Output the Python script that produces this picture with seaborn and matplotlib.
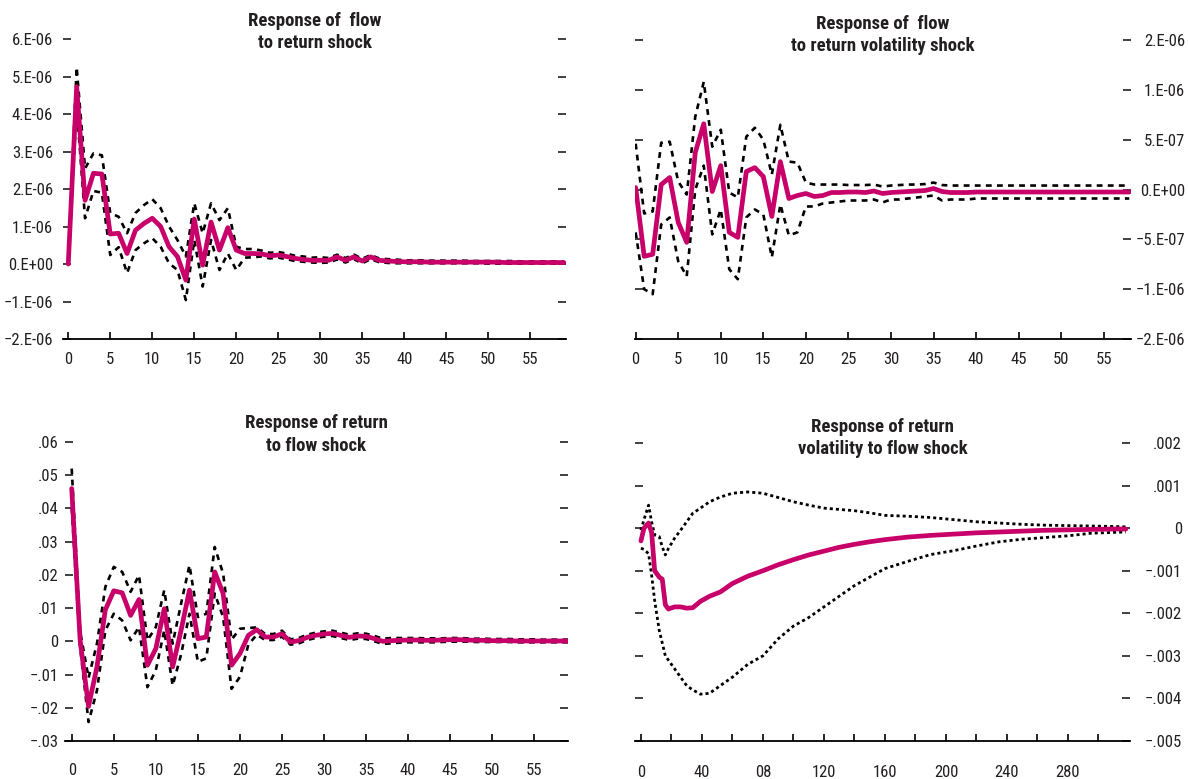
import numpy as np
import pandas as pd
import matplotlib
matplotlib.use("Agg")
import matplotlib.pyplot as plt
import seaborn as sns

# Estilo geral
sns.set_theme(style="white")
plt.rcParams['font.family'] = ['Roboto Condensed', 'DejaVu Sans']
PINK = '#C8006A'
INK = '#231F20'

# --- Dados: resposta do fluxo a choque de retorno (unidades de 1e-6) ---
tl_mid = [0.0, 4.73, 1.7, 2.42, 2.4, 0.8, 0.82, 0.28, 0.9, 1.08,
          1.22, 1.0, 0.46, 0.2, -0.43, 1.2, -0.03, 1.12, 0.37, 0.97,
          0.37, 0.28, 0.28, 0.27, 0.22, 0.24, 0.2, 0.15, 0.12, 0.1,
          0.1, 0.1, 0.19, 0.1, 0.19, 0.08, 0.19, 0.1, 0.08, 0.07,
          0.06, 0.06, 0.06, 0.05, 0.05, 0.05, 0.05, 0.05, 0.05, 0.05,
          0.05, 0.05, 0.04, 0.04, 0.04, 0.04, 0.04, 0.04, 0.04, 0.04]
tl_hi = [0.0, 5.25, 2.55, 2.95, 2.9, 1.36, 1.26, 0.82, 1.36, 1.57,
         1.73, 1.49, 1.0, 0.64, 0.2, 1.62, 0.82, 1.62, 1.17, 1.49,
         0.46, 0.4, 0.4, 0.36, 0.3, 0.32, 0.28, 0.22, 0.2, 0.17,
         0.18, 0.16, 0.25, 0.16, 0.25, 0.14, 0.24, 0.15, 0.13, 0.12,
         0.1, 0.1, 0.1, 0.09, 0.09, 0.09, 0.09, 0.09, 0.08, 0.08,
         0.08, 0.08, 0.08, 0.08, 0.07, 0.07, 0.07, 0.07, 0.07, 0.07]
tl_lo = [0.0, 4.2, 1.22, 1.95, 1.9, 0.24, 0.45, -0.24, 0.37, 0.55,
         0.69, 0.46, 0.02, -0.16, -0.96, 0.64, -0.6, 0.64, -0.16, 0.28,
         -0.16, 0.17, 0.18, 0.2, 0.15, 0.17, 0.13, 0.08, 0.06, 0.04,
         0.03, 0.04, 0.12, 0.04, 0.13, 0.02, 0.13, 0.05, 0.03, 0.02,
         0.02, 0.02, 0.02, 0.02, 0.02, 0.02, 0.02, 0.02, 0.02, 0.02,
         0.01, 0.01, 0.01, 0.01, 0.01, 0.01, 0.01, 0.01, 0.01, 0.01]

# --- Dados: resposta do fluxo a choque de volatilidade (unidades de 1e-7) ---
tr_mid = [0.2, -6.7, -6.5, 0.5, 1.2, -3.3, -5.3, 3.7, 6.6, -0.2,
          2.4, -4.3, -4.8, 1.8, 2.2, 1.3, -2.7, 2.8, -0.9, -0.6,
          -0.4, -0.7, -0.6, -0.3, -0.3, -0.25, -0.25, -0.3, -0.15, -0.4,
          -0.3, -0.25, -0.2, -0.15, -0.1, 0.1, -0.2, -0.3, -0.3, -0.3,
          -0.25, -0.25, -0.25, -0.25, -0.25, -0.25, -0.25, -0.25, -0.25, -0.25,
          -0.25, -0.25, -0.25, -0.25, -0.25, -0.25, -0.25, -0.25, -0.25]
tr_hi = [4.6, -2.4, -2.2, 4.7, 4.8, 0.8, -0.5, 7.3, 10.8, 4.3,
         6.0, -0.3, -0.8, 5.3, 6.2, 5.0, 1.5, 6.5, 2.8, 2.7,
         0.7, 0.5, 0.5, 0.5, 0.5, 0.45, 0.45, 0.45, 0.5, 0.3,
         0.4, 0.45, 0.5, 0.5, 0.55, 0.7, 0.45, 0.4, 0.4, 0.4,
         0.4, 0.4, 0.4, 0.4, 0.4, 0.4, 0.4, 0.4, 0.4, 0.4,
         0.4, 0.4, 0.4, 0.4, 0.4, 0.4, 0.4, 0.4, 0.4]
tr_lo = [-4.3, -10.0, -10.5, -3.5, -2.8, -7.2, -8.7, 0.0, 2.4, -4.5,
         -2.0, -8.0, -9.0, -2.8, -2.0, -2.5, -6.8, -1.5, -4.6, -4.3,
         -1.7, -1.7, -1.4, -1.3, -1.2, -1.1, -1.1, -1.1, -1.0, -1.3,
         -1.0, -1.0, -0.9, -0.8, -0.7, -0.6, -1.1, -1.0, -1.0, -1.0,
         -0.9, -0.9, -0.9, -0.9, -0.9, -0.9, -0.9, -0.9, -0.9, -0.9,
         -0.9, -0.9, -0.9, -0.9, -0.9, -0.9, -0.9, -0.9, -0.9]

# --- Dados: resposta do retorno a choque de fluxo ---
bl_mid = [0.046, 0.0003, -0.0196, -0.0077, 0.0095, 0.0152, 0.0146, 0.0078, 0.0126, -0.0072,
          -0.0022, 0.0098, -0.0077, 0.0033, 0.0154, 0.0008, 0.0013, 0.0209, 0.0144, -0.0072,
          -0.0037, 0.0018, 0.0035, 0.0013, 0.0013, 0.0023, -0.0002, 0.0002, 0.0012, 0.0018,
          0.0022, 0.0024, 0.0018, 0.0012, 0.0016, 0.0015, 0.0008, 0.0, 0.0002, 0.0003,
          0.0004, 0.0004, 0.0003, 0.0003, 0.0004, 0.0005, 0.0005, 0.0004, 0.0003, 0.0003,
          0.0002, 0.0002, 0.0002, 0.0001, 0.0001, 0.0001, 0.0001, 0.0001, 0.0001, 0.0001]
bl_hi = [0.052, 0.003, -0.011, -0.0007, 0.0164, 0.0224, 0.0209, 0.0149, 0.0199, 0.0003,
         0.0043, 0.0154, -0.0007, 0.0113, 0.0229, 0.0073, 0.0083, 0.0284, 0.0204, 0.0005,
         0.0038, 0.004, 0.0042, 0.0022, 0.0022, 0.0032, 0.0006, 0.001, 0.002, 0.0026,
         0.003, 0.0032, 0.0026, 0.002, 0.0024, 0.0023, 0.0016, 0.0008, 0.001, 0.001,
         0.001, 0.001, 0.0009, 0.0009, 0.0009, 0.001, 0.001, 0.0009, 0.0008, 0.0008,
         0.0007, 0.0007, 0.0007, 0.0006, 0.0006, 0.0006, 0.0005, 0.0005, 0.0005, 0.0005]
bl_lo = [0.040, -0.0017, -0.0243, -0.0148, 0.0033, 0.0083, 0.0063, 0.0003, 0.0043, -0.0138,
         -0.0087, 0.0033, -0.0133, -0.004, 0.0083, -0.0062, -0.0051, 0.0144, 0.0073, -0.0143,
         -0.0107, -0.001, 0.002, 0.0004, 0.0004, 0.0014, -0.001, -0.0006, 0.0004, 0.001,
         0.0014, 0.0016, 0.001, 0.0004, 0.0008, 0.0007, 0.0, -0.0008, -0.0006, -0.0004,
         -0.0003, -0.0003, -0.0003, -0.0003, -0.0002, -0.0001, -0.0001, -0.0001, -0.0002, -0.0002,
         -0.0002, -0.0002, -0.0002, -0.0003, -0.0003, -0.0003, -0.0003, -0.0003, -0.0003, -0.0003]

# --- Dados: resposta da volatilidade a choque de fluxo ---
br_h = [0, 2, 5, 7, 9, 12, 14, 16, 18, 22, 26, 30, 34, 39, 45, 52, 60, 70, 80, 90,
        100, 110, 120, 130, 140, 150, 160, 175, 190, 205, 220, 235, 250, 265, 280, 295, 310, 318]
br_mid = [-0.0003, 0.0, 0.00012, -0.0001, -0.001, -0.00115, -0.0012, -0.0018, -0.0019, -0.00185,
          -0.00185, -0.00188, -0.00187, -0.00172, -0.0016, -0.0015, -0.0013, -0.00113, -0.001, -0.00086,
          -0.00074, -0.00063, -0.00054, -0.00045, -0.00038, -0.00032, -0.00027, -0.00021, -0.00017, -0.00014,
          -0.00011, -0.00009, -0.00007, -0.00005, -0.00004, -0.00003, -0.00002, -0.00002]
br_hi = [-0.00005, 0.0002, 0.00054, 0.00015, -0.00016, -0.0002, -0.00044, -0.00063, -0.00048, -0.00024,
         -0.00005, 0.00015, 0.00035, 0.00047, 0.00062, 0.00073, 0.00082, 0.00085, 0.00082, 0.00072,
         0.00062, 0.00054, 0.00047, 0.00044, 0.00041, 0.00036, 0.0003, 0.00028, 0.00025, 0.0002,
         0.00015, 0.00012, 0.00009, 0.00007, 0.00006, 0.00005, 0.00004, 0.00003]
br_lo = [-0.00047, -0.0005, -0.0006, -0.0011, -0.0017, -0.0024, -0.0027, -0.003, -0.0031, -0.0033,
         -0.0035, -0.0037, -0.0038, -0.0039, -0.00388, -0.0037, -0.0035, -0.0032, -0.003, -0.0026,
         -0.0023, -0.0021, -0.00185, -0.0016, -0.00135, -0.00115, -0.00095, -0.00078, -0.00062, -0.00053,
         -0.00042, -0.00032, -0.00026, -0.00022, -0.00018, -0.00012, -0.0001, -0.00009]

# Rótulos dos eixos
tl_yticks = [-2e-6, -1e-6, 0, 1e-6, 2e-6, 3e-6, 4e-6, 5e-6, 6e-6]
tl_ylabels = ['\u22122.E-06', '\u22121.E-06', '0.E+00', '1.E-06', '2.E-06', '3.E-06', '4.E-06', '5.E-06', '6.E-06']
tr_yticks = [-1.5e-6, -1e-6, -5e-7, 0, 5e-7, 1e-6, 1.5e-6]
tr_ylabels = ['\u22122.E-06', '\u22121.E-06', '\u22125.E-07', '0.E+00', '5.E-07', '1.E-06', '2.E-06']
bl_yticks = [-0.03, -0.02, -0.01, 0, 0.01, 0.02, 0.03, 0.04, 0.05, 0.06]
bl_ylabels = ['\u2212.03', '\u2212.02', '\u2212.01', '0', '.01', '.02', '.03', '.04', '.05', '.06']
br_yticks = [-0.005, -0.004, -0.003, -0.002, -0.001, 0, 0.001, 0.002]
br_ylabels = ['\u2212.005', '\u2212.004', '\u2212.003', '\u2212.002', '\u2212.001', '0', '.001', '.002']
short_xticks = list(range(0, 60, 5))
long_xticks = list(range(0, 320, 20))
long_xlabels = ['0', '', '40', '', '08', '', '120', '', '160', '', '200', '', '240', '', '280', '']

titles = ['Response of  flow\nto return shock',
          'Response of  flow\nto return volatility shock',
          'Response of return\nto flow shock',
          'Response of return\nvolatility to flow shock']


def draw(ax, x, mid, hi, lo, dash, lw_band):
    for band in (hi, lo):
        sns.lineplot(x=x, y=band, ax=ax, color='black', linewidth=lw_band,
                     linestyle=(0, dash), estimator=None)
    sns.lineplot(x=x, y=mid, ax=ax, color=PINK, linewidth=3.4, estimator=None)


def style(ax, side, xlim, ylim, yticks, ylabels, xticks, xlabels, ypad, xpad, title, ty):
    ax.set_xlim(*xlim)
    ax.set_ylim(*ylim)
    for s in ['left', 'right', 'top']:
        ax.spines[s].set_visible(False)
    ax.spines['bottom'].set_color('black')
    ax.spines['bottom'].set_linewidth(1.3)
    ax.set_xticks(xticks)
    ax.set_xticklabels(xlabels)
    ax.set_yticks(yticks)
    ax.set_yticklabels(ylabels)
    ax.tick_params(axis='x', direction='in', length=5, width=1.2, color='black',
                   labelsize=12, labelcolor=INK, pad=xpad, bottom=True)
    ax.tick_params(axis='y', direction='in', length=6, width=1.2, color=INK,
                   labelsize=12, labelcolor=INK, pad=ypad, left=True, right=True,
                   labelleft=(side == 'left'), labelright=(side == 'right'))
    if side == 'right':
        for t in ax.yaxis.get_major_ticks():
            t.label2.set_horizontalalignment('right')
    ax.set_xlabel('')
    ax.set_ylabel('')
    ax.grid(False)
    ax.text(0.5, ty, title, transform=ax.transAxes, ha='center', va='center',
            fontsize=13.5, fontweight='bold', color=INK, linespacing=1.3)


fig = plt.figure(figsize=(11.88, 7.79), dpi=100)
ax1 = fig.add_axes([0.0530, 0.5648, 0.4234, 0.3851])
ax2 = fig.add_axes([0.5345, 0.5648, 0.4175, 0.3838])
ax3 = fig.add_axes([0.0547, 0.0488, 0.4234, 0.3838])
ax4 = fig.add_axes([0.5345, 0.0488, 0.4167, 0.3825])

h60 = list(range(len(tl_mid)))
h59 = list(range(len(tr_mid)))

draw(ax1, h60, np.array(tl_mid) * 1e-6, np.array(tl_hi) * 1e-6, np.array(tl_lo) * 1e-6, (2.2, 2.0), 1.9)
draw(ax2, h59, np.array(tr_mid) * 1e-7, np.array(tr_hi) * 1e-7, np.array(tr_lo) * 1e-7, (2.2, 2.0), 1.9)
draw(ax3, h60, bl_mid, bl_hi, bl_lo, (2.2, 2.0), 1.9)
draw(ax4, br_h, br_mid, br_hi, br_lo, (1.1, 1.1), 2.0)

style(ax1, 'left', (-0.63, 59.25), (-2e-6, 6e-6), tl_yticks, tl_ylabels,
      short_xticks, [str(v) for v in short_xticks], 7.2, 9, titles[0], 1.023)
style(ax2, 'right', (-0.08, 58.2), (-1.5e-6, 1.5e-6), tr_yticks, tr_ylabels,
      short_xticks, [str(v) for v in short_xticks], 39.0, 9, titles[1], 1.018)
style(ax3, 'left', (-0.8, 59.0), (-0.03, 0.06), bl_yticks, bl_ylabels,
      short_xticks, [str(v) for v in short_xticks], 4.8, 16, titles[2], 1.025)
style(ax4, 'right', (-3.9, 320.7), (-0.005, 0.002), br_yticks, br_ylabels,
      long_xticks, long_xlabels, 37.4, 17, titles[3], 1.017)

plt.savefig('out.png', dpi=100)
